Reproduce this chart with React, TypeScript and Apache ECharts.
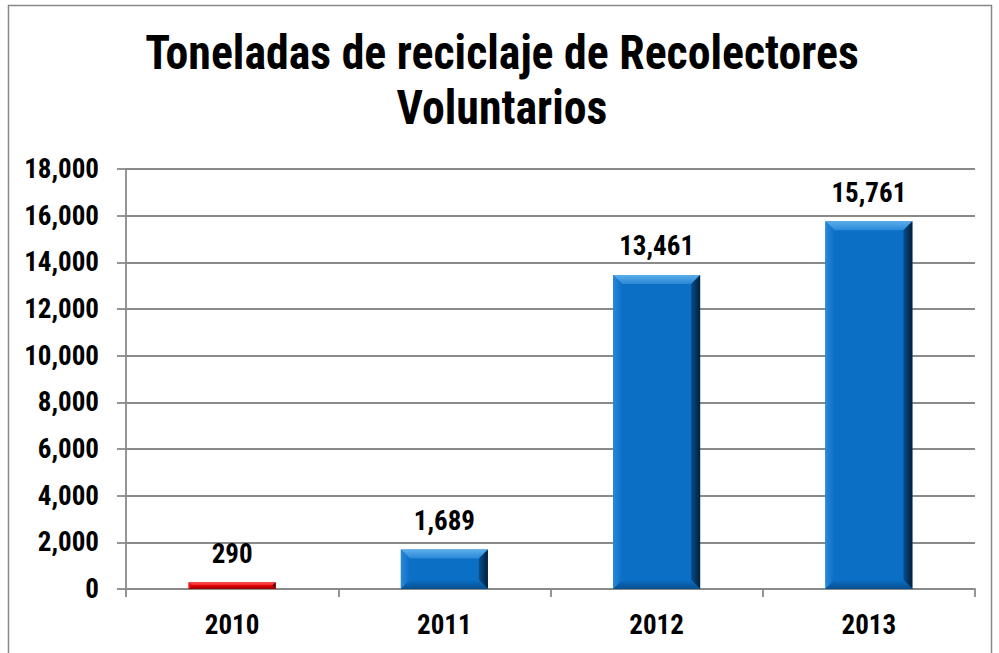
import React, { useEffect, useRef } from "react";
import * as echarts from "echarts";

const categories = ["2010", "2011", "2012", "2013"];
const values = [290, 1689, 13461, 15761];
const barColorKeys = ["red", "blue", "blue", "blue"];
const yTickLabels = ["0", "2,000", "4,000", "6,000", "8,000", "10,000", "12,000", "14,000", "16,000", "18,000"];
const titleLines = ["Toneladas de reciclaje de Recolectores", "Voluntarios"];

const FONT = "'Roboto Condensed', 'Arial Narrow', 'Liberation Sans', Arial, sans-serif";
const BAR_W = 87;

const palette: Record<string, { main: string; light: string; lighter: string; dark: string; darkest: string }> = {
  blue: { main: "#0b6fc6", light: "#2a88d8", lighter: "#5aaeea", dark: "#074f8e", darkest: "#011e38" },
  red: { main: "#e00000", light: "#f02020", lighter: "#ff5050", dark: "#9a0000", darkest: "#3a0000" },
};

export default function App() {
  const ref = useRef<HTMLDivElement>(null);
  useEffect(() => {
    if (!ref.current) return;
    const chart = echarts.init(ref.current, undefined, { renderer: "svg" });
    const axisGray = "#8a8a8a";
    chart.setOption({
      animation: false,
      backgroundColor: "#fff",
      graphic: [
        {
          type: "rect",
          shape: { x: 8.5, y: 5.5, width: 983, height: 660 },
          style: { fill: "none", stroke: "#888", lineWidth: 1.5 },
          silent: true,
        },
        ...titleLines.map((t, i) => ({
          type: "text",
          x: 502,
          y: 52 + i * 55,
          scaleX: 0.955,
          silent: true,
          style: {
            text: t,
            fill: "#000",
            font: `bold 48px ${FONT}`,
            textAlign: "center",
            textVerticalAlign: "middle",
          },
        })),
      ],
      grid: { left: 126, right: 24, top: 169, bottom: 64 },
      xAxis: {
        type: "category",
        data: categories,
        axisLine: { lineStyle: { color: axisGray, width: 1.8 } },
        axisTick: { show: true, length: 8, lineStyle: { color: axisGray, width: 1.8 } },
        axisLabel: {
          fontFamily: FONT,
          fontWeight: "bold",
          fontSize: 27,
          color: "#000",
          margin: 22,
        },
      },
      yAxis: {
        type: "value",
        min: 0,
        max: 18000,
        interval: 2000,
        axisLine: { show: true, lineStyle: { color: axisGray, width: 1.8 } },
        axisTick: { show: true, length: 9, lineStyle: { color: axisGray, width: 1.8 } },
        splitLine: { lineStyle: { color: axisGray, width: 1.8 } },
        axisLabel: {
          fontFamily: FONT,
          fontWeight: "bold",
          fontSize: 27,
          color: "#000",
          margin: 27,
          formatter: (v: number) => yTickLabels[Math.round(v / 2000)] ?? String(v),
        },
      },
      series: [
        {
          type: "bar",
          barWidth: BAR_W,
          z: 2,
          data: values.map((v, i) => ({
            value: v,
            itemStyle: { color: palette[barColorKeys[i]].main },
          })),
          label: {
            show: true,
            position: "top",
            distance: 15,
            fontFamily: FONT,
            fontWeight: "bold",
            fontSize: 27,
            color: "#000",
            formatter: (p: any) => Number(p.value).toLocaleString("en-US"),
          },
        },
        {
          type: "custom",
          z: 3,
          silent: true,
          data: values.map((v, i) => [i, v]),
          renderItem: (params: any, api: any) => {
            const idx = params.dataIndex;
            const pal = palette[barColorKeys[idx]];
            const top = api.coord([api.value(0), api.value(1)]);
            const base = api.coord([api.value(0), 0]);
            const cx = top[0];
            const y0 = top[1];
            const y1 = base[1];
            const x0 = cx - BAR_W / 2;
            const x1 = cx + BAR_W / 2;
            const b = Math.min(9, (y1 - y0) / 2);
            const V = (c1: string, c2: string) =>
              new echarts.graphic.LinearGradient(0, 0, 0, 1, [
                { offset: 0, color: c1 },
                { offset: 1, color: c2 },
              ]);
            const H = (c1: string, c2: string) =>
              new echarts.graphic.LinearGradient(0, 0, 1, 0, [
                { offset: 0, color: c1 },
                { offset: 1, color: c2 },
              ]);
            return {
              type: "group",
              children: [
                {
                  type: "polygon",
                  shape: { points: [[x0, y0], [x1, y0], [x1 - b, y0 + b], [x0 + b, y0 + b]] },
                  style: { fill: V(pal.lighter, pal.light) },
                },
                {
                  type: "polygon",
                  shape: { points: [[x0, y0], [x0 + b, y0 + b], [x0 + b, y1 - b], [x0, y1]] },
                  style: { fill: H(pal.light, pal.main) },
                },
                {
                  type: "polygon",
                  shape: { points: [[x1, y0], [x1, y1], [x1 - b, y1 - b], [x1 - b, y0 + b]] },
                  style: { fill: H(pal.dark, pal.darkest) },
                },
                {
                  type: "polygon",
                  shape: { points: [[x0, y1], [x0 + b, y1 - b], [x1 - b, y1 - b], [x1, y1]] },
                  style: { fill: V(pal.main, pal.dark) },
                },
              ],
            };
          },
        },
      ],
    });
    return () => chart.dispose();
  }, []);
  return <div ref={ref} style={{ width: 999, height: 653, position: "absolute", left: 0, top: 0 }} />;
}
